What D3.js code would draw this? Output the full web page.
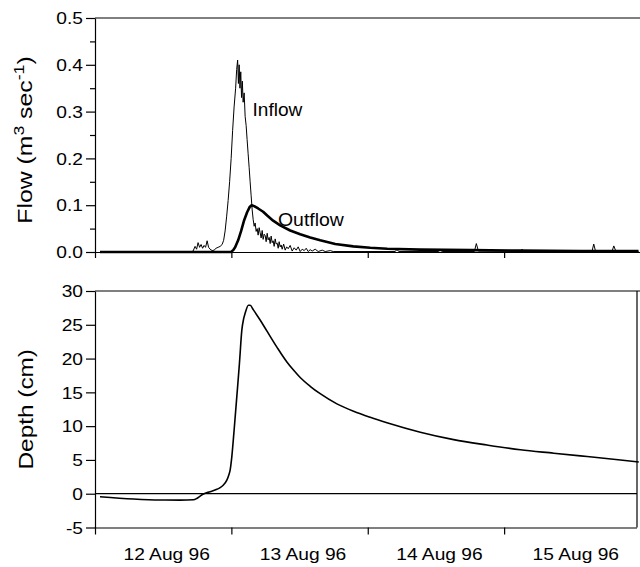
<!DOCTYPE html>
<html>
<head>
<meta charset="utf-8">
<script src="https://cdn.jsdelivr.net/npm/d3@7"></script>
<style>
  html, body { margin: 0; padding: 0; background: #fff; }
  svg { display: block; font-family: "Liberation Sans", Arial, Helvetica, sans-serif; }
</style>
</head>
<body>
<svg id="chart" width="640" height="567"></svg>
<script>
// Times are hours after 12 Aug 96 00:00.
const inflowHours = [
  0.88, 17.09, 17.26, 17.61, 17.88, 18.14, 18.41, 18.67, 18.94, 19.20, 19.46, 19.73, 19.99,
  20.26, 20.61, 20.96, 21.31, 21.67, 22.02, 22.37, 22.64, 22.90, 23.16, 23.43, 23.69, 23.96,
  24.22, 24.48, 24.75, 24.93, 25.10, 25.24, 25.37, 25.51, 25.65, 25.79, 25.93, 26.07, 26.25,
  26.42, 26.60, 26.77, 26.95, 27.13, 27.30, 27.48, 27.66, 27.83, 28.01, 28.18, 28.36, 28.54,
  28.71, 28.89, 29.06, 29.24, 29.42, 29.59, 29.77, 29.95, 30.12, 30.30, 30.47, 30.65, 30.83,
  31.00, 31.18, 31.35, 31.53, 31.71, 31.88, 32.06, 32.24, 32.41, 32.59, 32.76, 32.94, 33.20,
  33.47, 33.73, 34.00, 34.35, 34.70, 35.05, 35.41, 35.76, 36.11, 36.46, 36.82, 37.17, 37.52,
  37.87, 38.22, 38.75, 39.28, 39.99, 40.51, 41.40, 41.92, 52.80, 53.14, 53.50, 60.40, 60.77,
  61.10, 66.76, 67.11, 67.47, 74.85, 75.16, 75.50, 87.46, 87.77, 88.08, 90.98, 91.30, 91.69,
  95.65
];
const inflowFlow = [
  0.001, 0.001, 0.002, 0.012, 0.006, 0.020, 0.010, 0.016, 0.008, 0.014, 0.010, 0.024, 0.010,
  0.006, 0.003, 0.004, 0.008, 0.010, 0.012, 0.016, 0.025, 0.045, 0.075, 0.110, 0.150, 0.200,
  0.260, 0.310, 0.350, 0.390, 0.410, 0.360, 0.400, 0.350, 0.385, 0.330, 0.365, 0.320, 0.340,
  0.290, 0.270, 0.240, 0.210, 0.180, 0.150, 0.120, 0.090, 0.070, 0.055, 0.062, 0.044, 0.050,
  0.036, 0.052, 0.041, 0.030, 0.046, 0.027, 0.038, 0.035, 0.022, 0.040, 0.026, 0.031, 0.018,
  0.034, 0.020, 0.024, 0.012, 0.028, 0.017, 0.019, 0.008, 0.022, 0.011, 0.015, 0.006, 0.017,
  0.004, 0.011, 0.007, 0.014, 0.002, 0.009, 0.004, 0.011, 0.001, 0.006, 0.003, 0.008, 0.001,
  0.005, 0.002, 0.006, 0.001, 0.004, 0.001, 0.003, 0.001, 0.001, 0.005, 0.001, 0.001, 0.004,
  0.001, 0.001, 0.018, 0.002, 0.001, 0.006, 0.001, 0.001, 0.017, 0.002, 0.001, 0.013, 0.001,
  0.001
];

const outflowHours = [
  0.88, 23.96, 24.31, 24.66, 25.19, 25.72, 26.25, 26.77, 27.21, 27.57, 28.01, 28.71, 29.59,
  30.30, 31.35, 32.59, 34.35, 36.11, 37.87, 39.63, 42.28, 45.45, 48.44, 51.44, 57.25, 66.06,
  74.86, 85.43, 95.65
];
const outflowFlow = [
  0.000, 0.000, 0.004, 0.010, 0.025, 0.045, 0.068, 0.085, 0.096, 0.100, 0.098, 0.093, 0.086,
  0.078, 0.067, 0.057, 0.046, 0.038, 0.031, 0.025, 0.017, 0.012, 0.009, 0.007, 0.005, 0.004,
  0.003, 0.002, 0.002
];

const depthHours = [
  0.88, 6.75, 11.45, 14.97, 17.32, 17.91, 18.50, 19.08, 20.26, 21.44, 22.02, 22.60, 23.20,
  23.52, 23.78, 24.08, 24.48, 24.96, 25.42, 25.84, 26.16, 26.42, 27.00, 27.30, 27.88, 29.06,
  30.24, 32.01, 33.77, 34.93, 36.11, 37.87, 39.63, 42.57, 45.50, 48.44, 51.38, 57.25, 63.11,
  69.00, 74.86, 80.73, 86.61, 92.48, 95.70
];
const depthCm = [
  -0.44, -0.78, -0.93, -0.95, -0.90, -0.70, -0.35, -0.05, 0.30, 0.65, 0.90, 1.29, 2.00,
  2.70, 3.50, 5.50, 9.40, 14.40, 19.30, 24.20, 25.90, 26.70, 27.90, 27.90, 27.20, 25.70,
  24.10, 21.70, 19.50, 18.30, 17.20, 15.90, 14.80, 13.30, 12.20, 11.30, 10.50, 9.10, 8.00,
  7.20, 6.50, 6.00, 5.50, 5.00, 4.70
];

const flowTicks = [0.0, 0.1, 0.2, 0.3, 0.4, 0.5];
const flowMinorTicks = [0.05, 0.15, 0.25, 0.35, 0.45];
const depthTicks = [-5, 0, 5, 10, 15, 20, 25, 30];
const dayLabelHours = [12, 36, 60, 84];   // label each day at its midpoint

const t0 = Date.UTC(1996, 7, 12);
const toDate = h => new Date(t0 + h * 3600e3);

const svg = d3.select("#chart");

// Scales
const x = d3.scaleUtc().domain([toDate(0), toDate(96)]).range([95, 640.5]);
const yF = d3.scaleLinear().domain([0, 0.5]).range([252, 18]);
const yD = d3.scaleLinear().domain([-5, 30]).range([527.5, 291]);
const rightEdge = 637;
const textStretch = "scale(1.2,1)";

function styleAxis(g) {
  g.selectAll("path, line").attr("stroke", "#000").attr("stroke-width", 1.2);
  g.selectAll("text").attr("fill", "#000");
}

// ---------- Flow panel ----------
svg.append("line")
  .attr("x1", 95).attr("x2", 640).attr("y1", yF(0.5)).attr("y2", yF(0.5))
  .attr("stroke", "#000").attr("stroke-width", 1.2);

const flowAxis = svg.append("g")
  .attr("transform", "translate(95,0)")
  .call(d3.axisLeft(yF).tickValues(flowTicks).tickSize(9).tickSizeOuter(0)
    .tickFormat(d3.format(".1f")))
  .call(styleAxis);
flowAxis.selectAll("text")
  .attr("x", null).attr("dy", "0.36em")
  .attr("transform", "translate(-12,0) " + textStretch)
  .attr("font-size", 16).attr("font-family", null);

svg.append("g")
  .attr("transform", "translate(95,0)")
  .call(d3.axisLeft(yF).tickValues(flowMinorTicks).tickSize(5).tickSizeOuter(0).tickFormat(""))
  .call(g => g.select(".domain").remove())
  .call(styleAxis);

svg.append("g")
  .attr("transform", `translate(0,${yF(0)})`)
  .call(d3.axisBottom(x).ticks(d3.utcDay.every(1)).tickSize(6).tickSizeOuter(0).tickFormat(""))
  .call(styleAxis);

const flowLine = d3.line()
  .x(d => x(toDate(d[0])))
  .y(d => yF(d[1]));

svg.append("path")
  .datum(d3.zip(inflowHours, inflowFlow))
  .attr("d", flowLine)
  .attr("fill", "none").attr("stroke", "#000").attr("stroke-width", 1)
  .attr("stroke-linejoin", "round");

svg.append("path")
  .datum(d3.zip(outflowHours, outflowFlow))
  .attr("d", flowLine)
  .attr("fill", "none").attr("stroke", "#000").attr("stroke-width", 2.6)
  .attr("stroke-linejoin", "round");

svg.append("text")
  .attr("transform", "translate(252.5,116) scale(1.06,1)")
  .attr("font-size", 18).text("Inflow");
svg.append("text")
  .attr("transform", "translate(278,226) scale(1.08,1)")
  .attr("font-size", 18).text("Outflow");

// Flow axis title with superscripts
const flowTitle = svg.append("text")
  .attr("transform", "translate(32,140) rotate(-90) scale(1.18,1)")
  .attr("text-anchor", "middle").attr("font-size", 21);
flowTitle.append("tspan").text("Flow (m");
flowTitle.append("tspan").attr("dy", -8).attr("font-size", 15).text("3");
flowTitle.append("tspan").attr("dy", 8).text(" sec");
flowTitle.append("tspan").attr("dy", -8).attr("font-size", 15).text("-1");
flowTitle.append("tspan").attr("dy", 8).text(")");

// ---------- Depth panel ----------
svg.append("line")
  .attr("x1", 95).attr("x2", 640).attr("y1", yD(30)).attr("y2", yD(30))
  .attr("stroke", "#000").attr("stroke-width", 1.2);
svg.append("line")
  .attr("x1", rightEdge).attr("x2", rightEdge).attr("y1", yD(30)).attr("y2", yD(-5))
  .attr("stroke", "#000").attr("stroke-width", 1.2);
svg.append("line")
  .attr("x1", 95).attr("x2", rightEdge).attr("y1", yD(0)).attr("y2", yD(0))
  .attr("stroke", "#000").attr("stroke-width", 1.2);

const depthAxis = svg.append("g")
  .attr("transform", "translate(95,0)")
  .call(d3.axisLeft(yD).tickValues(depthTicks).tickSize(9).tickSizeOuter(0)
    .tickFormat(d => String(d)))
  .call(styleAxis);
depthAxis.selectAll("text")
  .attr("x", null).attr("dy", "0.36em")
  .attr("transform", "translate(-12,0) " + textStretch)
  .attr("font-size", 16).attr("font-family", null);

svg.append("g")
  .attr("transform", `translate(0,${yD(-5)})`)
  .call(d3.axisBottom(x).ticks(d3.utcDay.every(1)).tickSize(7).tickSizeOuter(0).tickFormat(""))
  .call(g => g.select(".domain").attr("d", `M${x.range()[0]},0.5H${rightEdge}`))
  .call(styleAxis);

const dateAxis = svg.append("g")
  .attr("transform", `translate(0,${yD(-5)})`)
  .call(d3.axisBottom(x).tickValues(dayLabelHours.map(toDate)).tickSize(0)
    .tickFormat(d3.utcFormat("%-d %b %y")))
  .call(g => g.select(".domain").remove());
dateAxis.selectAll("text")
  .attr("y", null).attr("dy", null)
  .attr("transform", "translate(3,32) " + textStretch)
  .attr("font-size", 16).attr("font-family", null).attr("fill", "#000");

const depthLine = d3.line()
  .x(d => x(toDate(d[0])))
  .y(d => yD(d[1]))
  .curve(d3.curveMonotoneX);

svg.append("path")
  .datum(d3.zip(depthHours, depthCm))
  .attr("d", depthLine)
  .attr("fill", "none").attr("stroke", "#000").attr("stroke-width", 1.6)
  .attr("stroke-linejoin", "round");

svg.append("text")
  .attr("transform", `translate(33,${(yD(30) + yD(-5)) / 2}) rotate(-90) scale(1.16,1)`)
  .attr("text-anchor", "middle").attr("font-size", 21).text("Depth (cm)");
</script>
</body>
</html>
